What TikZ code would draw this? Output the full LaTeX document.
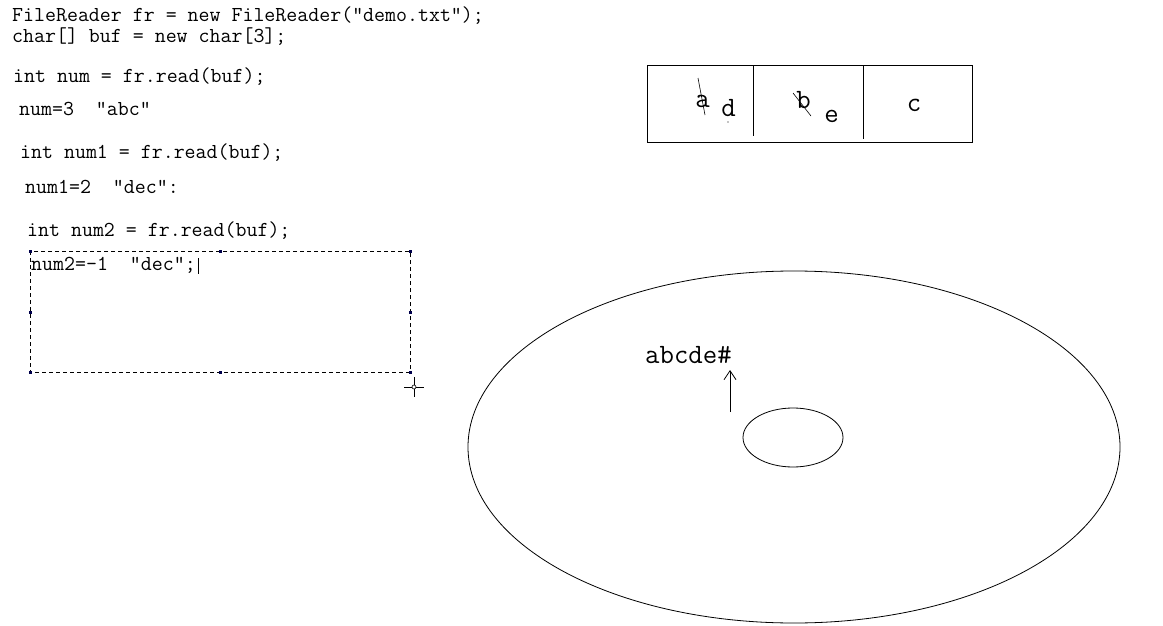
\documentclass[tikz,border=0pt]{standalone}
\usetikzlibrary{arrows.meta}
\newcommand\codefont{\ttfamily\fontsize{21.3}{24}\selectfont}
\newcommand\bigfont{\ttfamily\fontsize{28}{30}\selectfont}
\tikzset{
  code/.style={anchor=base west,inner sep=0pt,font=\codefont},
  letter/.style={anchor=base,inner sep=0pt,font=\bigfont},
  handle/.style={fill=black!70!blue,inner sep=0pt,minimum size=3pt,draw=none},
  thin line/.style={line width=0.8pt},
}
\begin{document}
\begin{tikzpicture}[x=1pt,y=-1pt]
\useasboundingbox (0,0) rectangle (1163,626);
% code lines
\node[code,text depth=3pt] (l1) at (12,21.5) {FileReader fr = new FileReader("demo.txt");};
\node[code,text height=12pt] (l2) at (12,42.5) {char[] buf = new char[3];};
\node[code] (l3) at (13,83) {int num = fr.read(buf);};
\node[code] (l4) at (19,116) {num=3~~"abc"};
\node[code] (l5) at (20,158) {int num1 = fr.read(buf);};
\node[code] (l6) at (25,193) {num1=2~~"dec":};
\node[code] (l7) at (27,236) {int num2 = fr.read(buf);};
\node[code] (l8) at (31,270) {num2=-1~~"dec";};
\draw[line width=0.7pt] (198,258) -- (198,274);
% dashed selection box
\draw[dashed,dash pattern=on 4pt off 3pt,line width=0.7pt] (30,251) rectangle (410,372);
\foreach \p in {(30,251),(220,251),(410,251),(30,312),(410,312),(30,372),(220,372),(410,372)}
  \node[handle] at \p {};
% crosshair cursor
\draw[line width=0.7pt] (404,387) -- (424,387) (414,377) -- (414,397);
\draw[line width=0.6pt,fill=white] (414,387) circle (2pt);
% array box
\draw[thin line] (647,65) rectangle (972,142);
\draw[thin line] (753,66) -- (753,136);
\draw[thin line] (863,66) -- (863,139);
\node[letter] (ca) at (702.5,107) {a};
\node[letter] (cd) at (728.5,117) {d};
\node[letter] (cb) at (803.5,108) {b};
\node[letter] (ce) at (831.5,122) {e};
\node[letter] (cc) at (914,112) {c};
\draw[line width=0.6pt] (698,78) -- (705,115);
\draw[line width=0.6pt] (793,93) -- (811,116);
\fill (728,122) circle (0.7pt);
% disk
\draw[thin line] (794,447) ellipse (326 and 176);
\draw[thin line] (793,437.5) ellipse (50 and 29.5);
\node[anchor=base west,inner sep=0pt,font=\bigfont] (txt) at (645,363) {abcde\#};
\coordinate (ptr) at (730,412);
\draw[thin line,-{Straight Barb[length=9pt,width=12pt]}] (ptr) -- (730,370);
\end{tikzpicture}
\end{document}
